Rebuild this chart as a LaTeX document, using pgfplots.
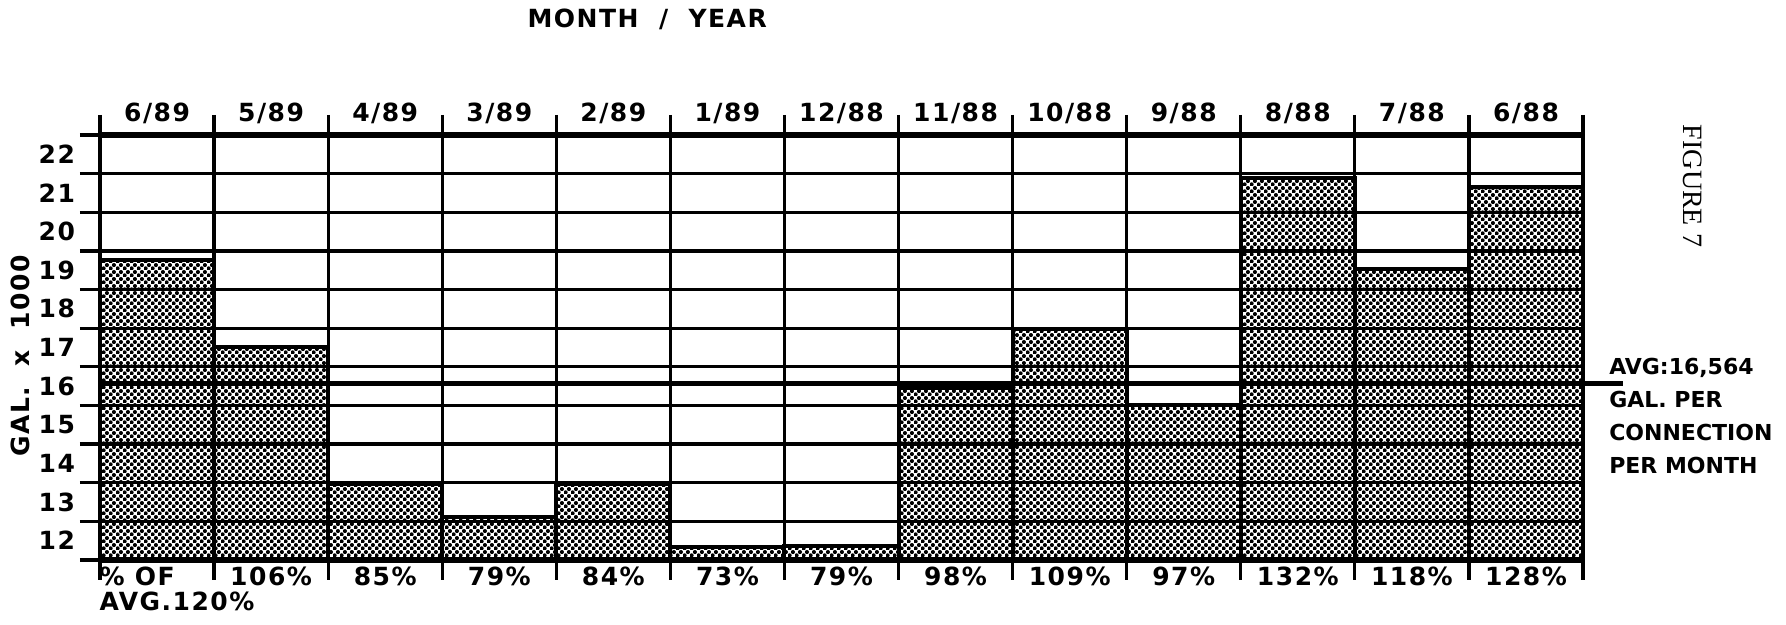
\documentclass[border=0pt]{standalone}
\usepackage{fontspec}
\setmainfont{DejaVu Sans}
\newfontfamily\figfont{Liberation Serif}
\newfontfamily\lettering{DejaVu Sans Bold}[LetterSpace=6]
\usepackage{pgfplots}
\pgfplotsset{compat=1.18}
\usetikzlibrary{patterns.meta}
\tikzdeclarepattern{
  name=stipple,
  type=uncolored,
  bottom left={(0pt,0pt)},
  top right={(3.4pt,3.4pt)},
  tile size={(3.4pt,3.4pt)},
  code={
    \pgfpathcircle{\pgfpoint{0.85pt}{0.85pt}}{1.05pt}
    \pgfpathcircle{\pgfpoint{2.55pt}{2.55pt}}{1.05pt}
    \pgfusepath{fill}
  }
}
\newcommand{\lf}{\lettering\fontsize{12.5}{15}\selectfont}
\begin{document}
\begin{tikzpicture}
\useasboundingbox (-50pt,-32.5pt) rectangle (843pt,280pt);
\begin{axis}[
  width=741.5pt, height=212.5pt, scale only axis,
  xmin=-0.5, xmax=12.5, ymin=12, ymax=23,
  axis on top,
  separate axis lines,
  x axis line style={line width=2.6pt},
  y axis line style={line width=1.6pt},
  xtick={0,...,12},
  xticklabels={{\hspace*{20pt}\shortstack[l]{\% OF\\AVG.120\%}},106\%,85\%,79\%,84\%,73\%,79\%,98\%,109\%,97\%,132\%,118\%,128\%},
  ytick={12.5,13.5,...,22.5},
  yticklabels={12,13,14,15,16,17,18,19,20,21,22},
  minor xtick={-0.5,0.5,...,12.5},
  minor ytick={12,...,23},
  xminorgrids, yminorgrids,
  minor grid style={black, line width=1.6pt},
  major tick length=0pt,
  minor tick length=10pt,
  tick align=outside,
  ytick pos=left, xtick pos=both,
  minor tick style={black, line width=1.6pt},
  ticklabel style={font=\lf},
  yticklabel style={xshift=-9pt},
  /pgf/number format/assume math mode=true,
  ylabel={GAL.~ x~ 1000},
  ylabel style={at={(rel axis cs:-0.054,0.48)}, anchor=center, font=\lf},
]
\addplot[ybar, bar width=1, draw=black, line width=2pt, pattern=stipple, pattern color=black]
  coordinates {(0,19.77) (1,17.5) (2,13.96) (3,13.1) (4,13.96) (5,12.33) (6,12.35)
               (7,16.45) (8,17.98) (9,16.02) (10,21.88) (11,19.53) (12,21.66)};
\end{axis}
\begin{axis}[
  width=741.5pt, height=212.5pt, scale only axis,
  xmin=-0.5, xmax=12.5, ymin=12, ymax=23,
  axis line style={draw=none},
  clip=false,
  xtick={0,...,12},
  xticklabels={6/89,5/89,4/89,3/89,2/89,1/89,12/88,11/88,10/88,9/88,8/88,7/88,6/88},
  xticklabel pos=upper,
  ytick=\empty,
  major tick length=0pt,
  tick style={draw=none},
  ticklabel style={font=\lf, yshift=2pt},
]
\addplot[black, line width=2.2pt] coordinates {(-0.5,16.564) (12.85,16.564)};
\node[font=\lf] at (rel axis cs:0.369,1.271) {MONTH~ /~ YEAR};
\node[anchor=north west, align=left, inner sep=0pt, font=\fontsize{11}{16.5}\selectfont\bfseries] at (axis cs:12.727,17.23) {AVG:16,564\\GAL. PER\\CONNECTION\\PER MONTH};
\node[rotate=-90, font=\figfont\fontsize{14}{16}\selectfont] at (rel axis cs:1.074,0.88) {FIGURE 7};
\end{axis}
\end{tikzpicture}
\end{document}
